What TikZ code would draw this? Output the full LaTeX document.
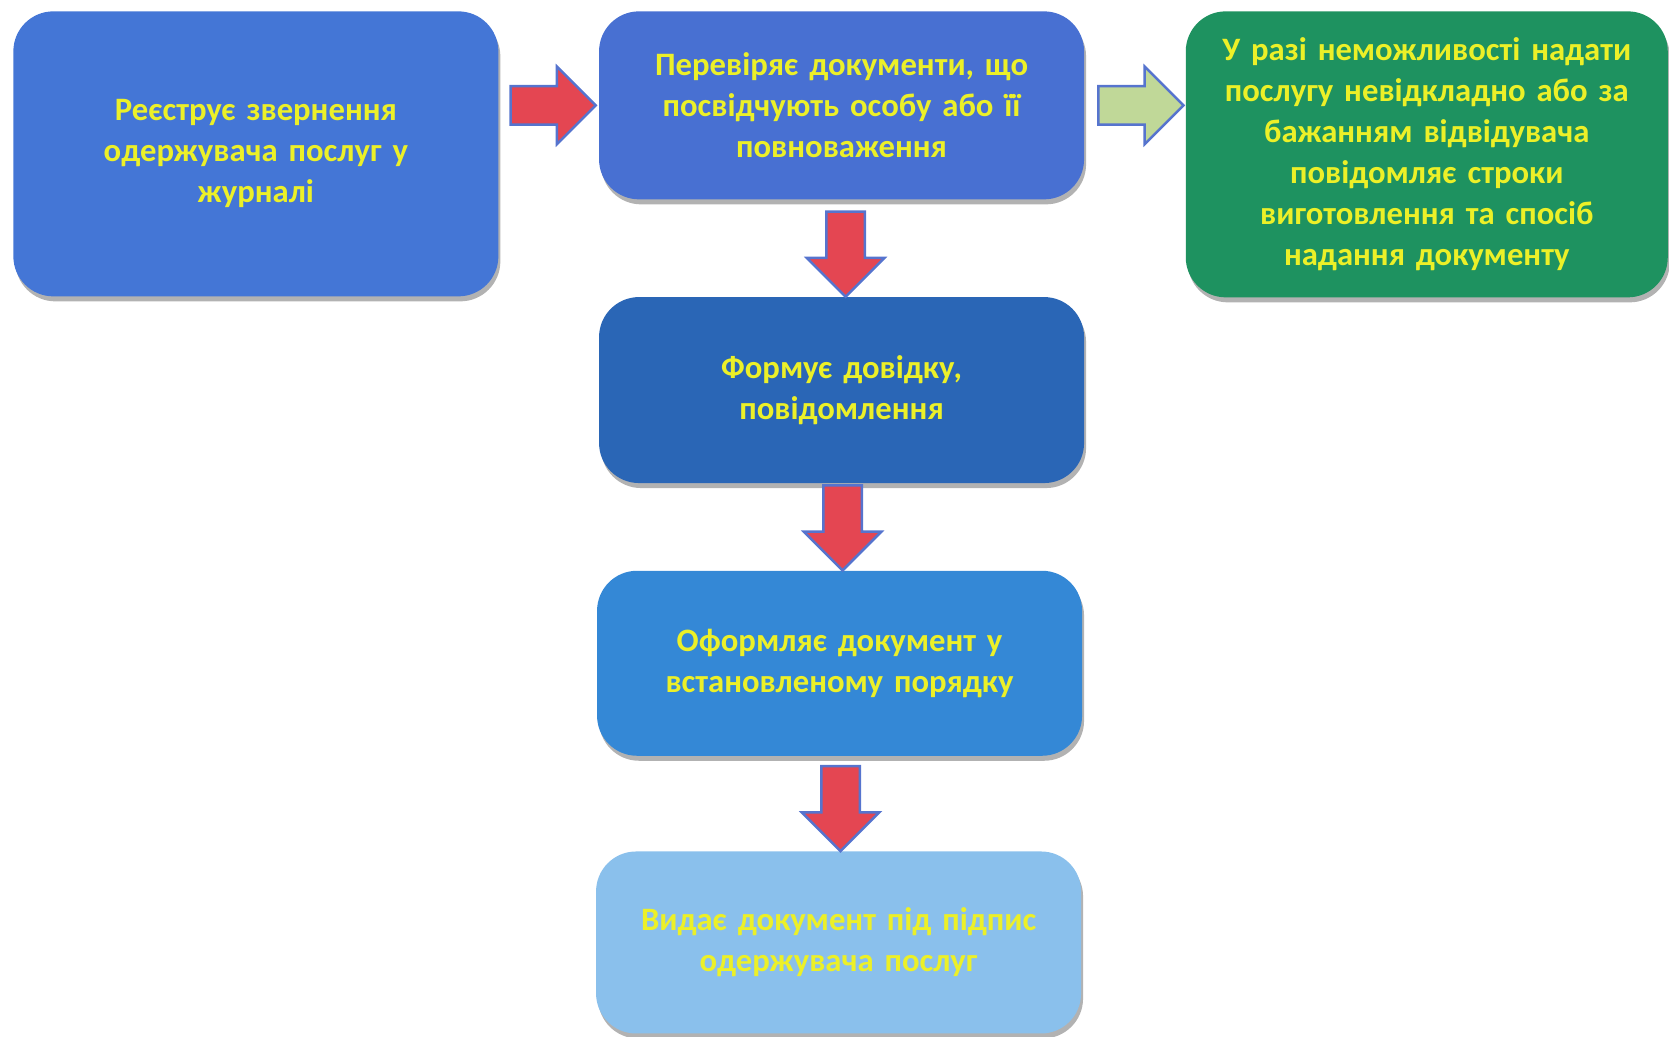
\documentclass[tikz,border=0pt]{standalone}
\usepackage{fontspec}
\setmainfont{Carlito}
\usetikzlibrary{shapes.arrows, positioning, calc, shadows}
\definecolor{textYellow}{RGB}{236, 240, 40}
\definecolor{regBlue}{RGB}{68, 118, 214}
\definecolor{checkBlue}{RGB}{72, 112, 210}
\definecolor{formBlue}{RGB}{42, 102, 182}
\definecolor{draftBlue}{RGB}{52, 136, 214}
\definecolor{issueBlue}{RGB}{138, 192, 236}
\definecolor{delayGreen}{RGB}{30, 146, 96}
\definecolor{arrowRed}{RGB}{228, 70, 82}
\definecolor{arrowEdge}{RGB}{86, 116, 206}
\definecolor{arrowGreen}{RGB}{192, 216, 152}
\tikzstyle{box} = [rectangle, rounded corners=8mm, minimum width=97mm, text width=92mm, align=center, text=textYellow, font=\fontsize{18.6}{23.3}\selectfont\bfseries, drop shadow={shadow xshift=0.4mm, shadow yshift=-1mm, opacity=0.3, fill=black}]
\tikzstyle{flow} = [single arrow, draw=arrowEdge, line width=0.5mm, minimum height=17mm, single arrow head extend=3.9mm, inner xsep=0mm, inner ysep=3.6mm, outer sep=0mm, anchor=tip]

\begin{document}
\begin{tikzpicture}[node distance=0mm]

\useasboundingbox (0,0) rectangle (333.8mm,-207.2mm);

\node (reg) [box, fill=regBlue, minimum height=57mm, anchor=north west] at(2.6mm,-2.2mm) {Реєструє звернення\\одержувача послуг у\\журналі};
\node (check) [box, fill=checkBlue, minimum height=37.6mm, anchor=north west, xshift=20mm] at(reg.north east) {Перевіряє документи, що\\посвідчують особу або її\\повноваження};
\node (delay) [box, fill=delayGreen, minimum height=57.2mm, minimum width=96.4mm, anchor=north west, xshift=20.2mm] at(check.north east) {У разі неможливості надати\\послугу невідкладно або за\\бажанням відвідувача\\повідомляє строки\\виготовлення та спосіб\\надання документу};

\node (form) [box, fill=formBlue, minimum height=37.2mm, anchor=north, yshift=-19.4mm] at(check.south) {Формує довідку,\\повідомлення};
\node (draft) [box, fill=draftBlue, minimum height=37mm, anchor=north, yshift=-17.4mm, xshift=-0.4mm] at(form.south) {Оформляє документ у\\встановленому порядку};
\node (issue) [box, fill=issueBlue, minimum height=36.4mm, anchor=north, yshift=-19mm, xshift=-0.2mm] at(draft.south) {Видає документ під підпис\\одержувача послуг};

% block arrows between the steps
\node (a1) [flow, fill=arrowRed, xshift=-0.6mm] at(check.west) {};
\node (a2) [flow, fill=arrowGreen, xshift=-0.4mm] at(delay.west |- check.west) {};
\node (a3) [flow, fill=arrowRed, rotate=-90, yshift=0.8mm] at(form.north) {};
\node (a4) [flow, fill=arrowRed, rotate=-90, yshift=0.6mm] at(draft.north) {};
\node (a5) [flow, fill=arrowRed, rotate=-90, yshift=0.4mm] at(issue.north) {};

\end{tikzpicture}
\end{document}
